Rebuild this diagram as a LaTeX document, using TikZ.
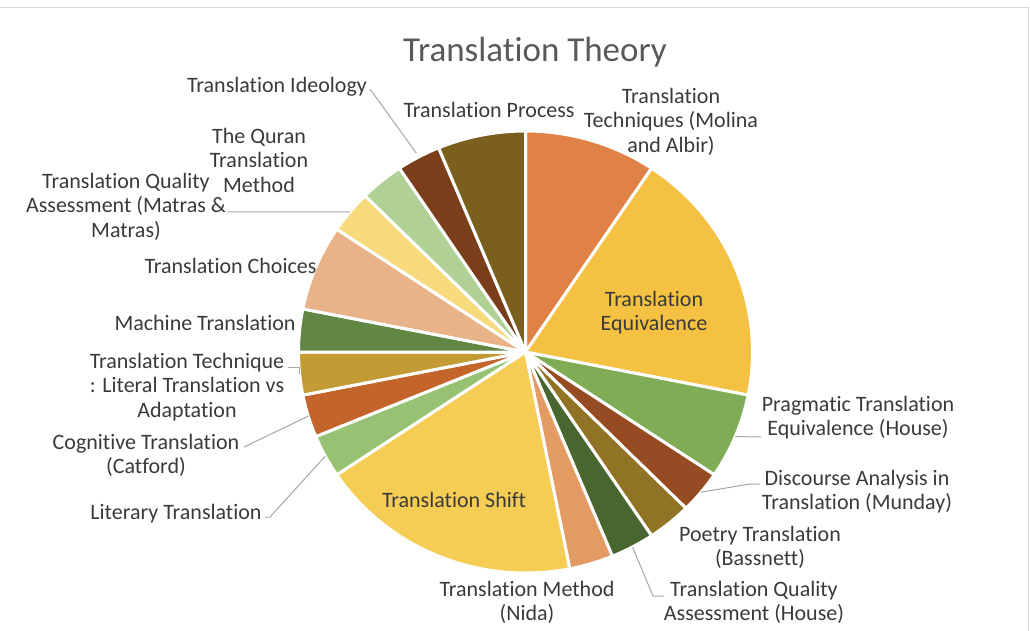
\documentclass[tikz,border=0pt]{standalone}
\usepackage{fontspec}
\setmainfont{Carlito}[Ligatures={NoCommon,NoContextual}]
\definecolor{c1}{HTML}{E08245}
\definecolor{c2}{HTML}{F4C142}
\definecolor{c3}{HTML}{80AC55}
\definecolor{c4}{HTML}{964B22}
\definecolor{c5}{HTML}{917325}
\definecolor{c6}{HTML}{4A6630}
\definecolor{c7}{HTML}{E39B63}
\definecolor{c8}{HTML}{F5CD55}
\definecolor{c9}{HTML}{98C273}
\definecolor{c10}{HTML}{C3652A}
\definecolor{c11}{HTML}{C29B34}
\definecolor{c12}{HTML}{628745}
\definecolor{c13}{HTML}{E8B388}
\definecolor{c14}{HTML}{F7DA7B}
\definecolor{c15}{HTML}{B0D095}
\definecolor{c16}{HTML}{7B3E1A}
\definecolor{c17}{HTML}{7A5F1E}
\definecolor{txt}{HTML}{3A3A3A}
\definecolor{ttl}{HTML}{595959}
\definecolor{leadc}{HTML}{A6A6A6}
\definecolor{frame}{HTML}{D9D9D9}
\def\cx{525.5}
\def\cy{352}
\def\rx{227}
\def\ry{221}
\newcommand{\myslice}[3]{\fill[#3, draw=white, line width=3pt, line join=round] (\cx,\cy) -- plot[domain=#1:#2, samples=60, variable=\t] ({\cx+\rx*sin(\t)},{\cy-\ry*cos(\t)}) -- cycle;}
\newcommand{\rimpt}[2]{\coordinate (#1) at ({\cx+\rx*sin(#2)},{\cy-\ry*cos(#2)});}
\tikzset{
  lab/.style={font=\fontsize{22}{24.5}\selectfont, text=txt, align=center, inner sep=0pt, anchor=north, execute at begin node=\strut},
  lead/.style={draw=leadc, line width=1pt},
}
\begin{document}
\begin{tikzpicture}[x=1pt,y=-1pt]
\useasboundingbox (0,0) rectangle (1030,631);
\draw[frame, line width=1pt] (-2,7.5) -- (1028.5,7.5) -- (1028.5,633);
% title
\node[font=\fontsize{35}{40}\selectfont, text=ttl, anchor=base, inner sep=0pt] (title) at (535,62) {Translation Theory};
% slices
\myslice{0}{33.75}{c1}
\myslice{33.75}{101.25}{c2}
\myslice{101.25}{123.75}{c3}
\myslice{123.75}{135}{c4}
\myslice{135}{146.25}{c5}
\myslice{146.25}{157.5}{c6}
\myslice{157.5}{168.75}{c7}
\myslice{168.75}{236.25}{c8}
\myslice{236.25}{247.5}{c9}
\myslice{247.5}{258.75}{c10}
\myslice{258.75}{270}{c11}
\myslice{270}{281.25}{c12}
\myslice{281.25}{303.75}{c13}
\myslice{303.75}{315}{c14}
\myslice{315}{326.25}{c15}
\myslice{326.25}{337.5}{c16}
\myslice{337.5}{360}{c17}
% rim points for leaders
\rimpt{s3}{112.5}
\rimpt{s4}{129.375}
\rimpt{s6}{151.875}
\rimpt{s9}{241.875}
\rimpt{s10}{253.125}
\rimpt{s11}{264.375}
\rimpt{s14}{309.375}
\coordinate (s16) at ({\cx+1.02*\rx*sin(331.875)},{\cy-1.02*\ry*cos(331.875)});
% labels
\node[lab] (lIdeo) at (277,74.85) {Translation Ideology};
\node[lab] (lProc) at (489,99.85) {Translation Process};
\node[lab] (lTech) at (671,87.85) {Translation\\Techniques (Molina\\and Albir)};
\node[lab] (lEquiv) at (654,290.85) {Translation\\Equivalence};
\node[lab] (lPrag) at (858,395.85) {Pragmatic Translation\\Equivalence (House)};
\node[lab] (lDisc) at (857,469.85) {Discourse Analysis in\\Translation (Munday)};
\node[lab] (lPoet) at (760,525.85) {Poetry Translation\\(Bassnett)};
\node[lab] (lTQAH) at (754,580.85) {Translation Quality\\Assessment (House)};
\node[lab] (lNida) at (527,580.85) {Translation Method\\(Nida)};
\node[lab] (lShift) at (454,489.85) {Translation Shift};
\node[lab] (lLit) at (176,501.85) {Literary Translation};
\node[lab] (lCog) at (146,433.85) {Cognitive Translation\\(Catford)};
\node[lab] (lTechL) at (187,352.85) {Translation Technique\\: Literal Translation vs\\Adaptation};
\node[lab] (lMach) at (205,312.85) {Machine Translation};
\node[lab] (lChoice) at (230.5,255.85) {Translation Choices};
\node[lab] (lMatras) at (126,172.85) {Translation Quality\\Assessment (Matras \&\\Matras)};
\node[lab] (lQuran) at (259,127.85) {The Quran\\Translation\\Method};
% leader ends
\coordinate (e16) at (370,89);
\coordinate (e3) at (761,437);
\coordinate (k4) at (750,484);
\coordinate (e4) at (760,484);
\coordinate (k6) at (653,596);
\coordinate (e6) at (664,596);
\coordinate (k9) at (270,517);
\coordinate (e9) at (265,517);
\coordinate (e10) at (244,447);
\coordinate (e11) at (288,367);
\coordinate (e14) at (228,212);
% leaders
\draw[lead] (s16) -- (e16);
\draw[lead] (s3) -- (e3);
\draw[lead] (s4) -- (k4) -- (e4);
\draw[lead] (s6) -- (k6) -- (e6);
\draw[lead] (s9) -- (k9) -- (e9);
\draw[lead] (s10) -- (e10);
\draw[lead] (s11) |- (e11);
\draw[lead] (s14) -- (e14);
\end{tikzpicture}
\end{document}
